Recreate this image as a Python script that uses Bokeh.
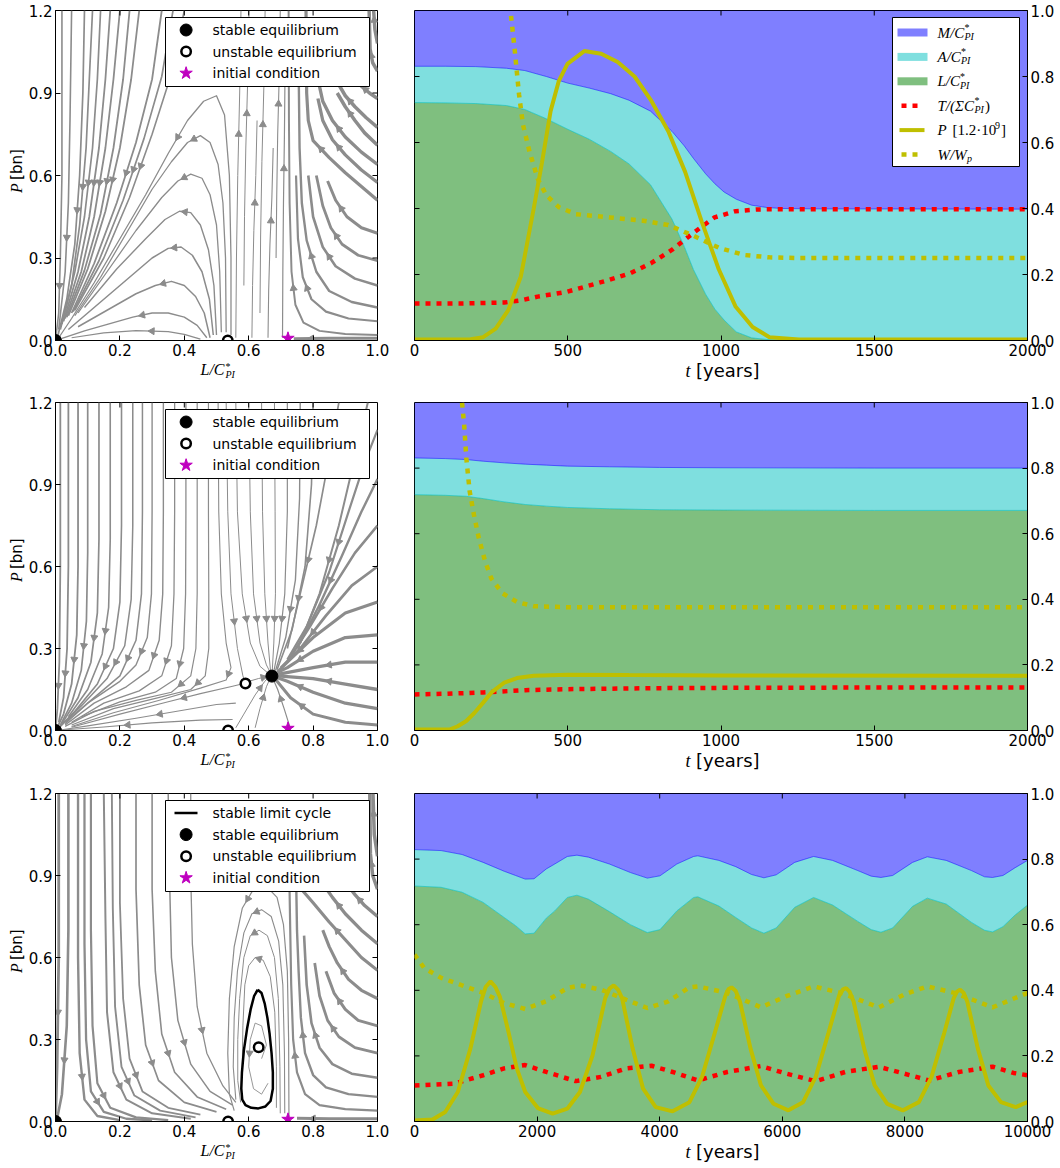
import math
import numpy as np
from bokeh.plotting import figure
from bokeh.models import (Range1d, FixedTicker, PrintfTickFormatter,
                          Label, BoxAnnotation, ColumnDataSource)
from bokeh.layouts import row, column
from bokeh.embed import file_html
from bokeh.resources import INLINE

# ===================== DATA =====================
phase_x_ticks = [0.0, 0.2, 0.4, 0.6, 0.8, 1.0]
phase_y_ticks = [0.0, 0.3, 0.6, 0.9, 1.2]
share_ticks = [0.0, 0.2, 0.4, 0.6, 0.8, 1.0]
t_ticks_short = [0, 500, 1000, 1500, 2000]
t_ticks_long = [0, 2000, 4000, 6000, 8000, 10000]

# ---- row 1 time series ----
t1_area = [0, 100, 200, 300, 360, 430, 500, 570, 640, 700, 770, 840, 880, 910, 950, 980, 1010, 1050, 1100, 1150, 1200, 1300, 2000]
L1 = [.721, .720, .718, .712, .700, .672, .640, .610, .573, .535, .472, .368, .285, .215, .140, .095, .062, .026, .008, .003, .001, .000, .000]
A1 = [.110, .111, .112, .113, .118, .128, .140, .155, .175, .193, .223, .266, .305, .337, .365, .380, .388, .402, .402, .400, .399, .399, .398]
M1 = [.169, .169, .170, .175, .182, .200, .220, .235, .252, .272, .305, .366, .410, .448, .495, .525, .550, .572, .590, .597, .600, .601, .602]
t1_T = [0, 150, 293, 350, 402, 450, 499, 568, 636, 705, 773, 842, 911, 979, 1048, 1117, 1200, 2000]
T1 = [0.112, 0.112, 0.115, 0.122, 0.133, 0.14, 0.148, 0.166, 0.184, 0.204, 0.235, 0.276, 0.327, 0.373, 0.392, 0.397, 0.398, 0.398]
t1_P = [0, 100, 183, 224, 265, 306, 347, 389, 416, 444, 471, 499, 554, 609, 663, 718, 773, 828, 883, 938, 993, 1048, 1103, 1158, 1254, 1400, 2000]
P1 = [0.003, 0.003, 0.004, 0.01, 0.036, 0.092, 0.194, 0.40, 0.54, 0.695, 0.787, 0.838, 0.877, 0.869, 0.844, 0.80, 0.726, 0.634, 0.511, 0.358, 0.215, 0.102, 0.041, 0.01, 0.003, 0.003, 0.003]
t1_W = [300, 313, 327, 341, 354, 375, 402, 430, 471, 526, 636, 746, 828, 911, 993, 1076, 1158, 1250, 2000]
W1 = [1.25, 1.0, 0.88, 0.746, 0.654, 0.573, 0.49, 0.44, 0.404, 0.383, 0.373, 0.363, 0.35, 0.317, 0.281, 0.259, 0.252, 0.25, 0.25]

# ---- row 2 time series ----
t2_area = [0, 100, 169, 224, 293, 361, 430, 499, 636, 800, 1000, 1500, 2000]
L2 = [.719, .717, .714, .707, .697, .689, .684, .680, .676, .673, .672, .671, .671]
A2 = [.112, .112, .112, .114, .119, .123, .125, .126, .128, .129, .129, .129, .129]
M2 = [.169, .171, .174, .179, .184, .188, .191, .194, .196, .198, .199, .200, .200]
t2_T = [0, 100, 224, 361, 499, 773, 1000, 1500, 2000]
T2 = [0.11, 0.112, 0.116, 0.123, 0.126, 0.129, 0.13, 0.131, 0.131]
t2_P = [0, 114, 141, 169, 196, 224, 251, 293, 334, 389, 499, 700, 1000, 2000]
P2 = [0.003, 0.003, 0.013, 0.029, 0.054, 0.085, 0.116, 0.146, 0.16, 0.167, 0.17, 0.169, 0.168, 0.167]
t2_W = [150, 155, 162, 169, 180, 194, 210, 231, 251, 286, 334, 389, 499, 1000, 2000]
W2 = [1.1, 1.0, 0.933, 0.831, 0.729, 0.657, 0.586, 0.514, 0.463, 0.419, 0.392, 0.379, 0.376, 0.376, 0.376]

# ---- row 3 time series ----
t3_area = [0, 433, 776, 1120, 1463, 1650, 1806, 1950, 2150, 2287, 2493, 2650, 2836, 3180, 3523, 3798, 4004, 4279, 4553, 4622, 4966, 5240, 5500, 5700, 5900, 6202, 6511, 6820, 7232, 7450, 7609, 7800, 8125, 8365, 8674, 9086, 9300, 9430, 9600, 9800, 10000]
L3 = [.718, .714, .699, .668, .622, .597, .572, .574, .620, .642, .683, .690, .678, .640, .600, .576, .585, .642, .683, .685, .657, .622, .590, .574, .590, .653, .683, .660, .610, .585, .577, .590, .656, .681, .663, .607, .583, .578, .594, .630, .660]
A3 = [.111, .112, .115, .122, .141, .153, .167, .166, .150, .143, .125, .122, .128, .145, .159, .166, .164, .143, .125, .125, .139, .155, .163, .169, .162, .137, .125, .136, .155, .163, .167, .160, .134, .126, .133, .158, .163, .166, .156, .144, .136]
M3 = [.171, .174, .186, .210, .237, .250, .261, .260, .230, .215, .192, .188, .194, .215, .241, .258, .251, .215, .192, .190, .204, .223, .247, .257, .248, .210, .192, .204, .235, .252, .256, .250, .210, .193, .204, .235, .254, .256, .250, .226, .204]
t3_T = [0, 639, 1120, 1463, 1806, 2150, 2630, 3043, 3455, 3867, 4210, 4622, 5103, 5652, 6065, 6545, 7026, 7575, 7987, 8400, 8880, 9430, 9773, 10000]
T3 = [0.11, 0.115, 0.141, 0.162, 0.172, 0.151, 0.123, 0.136, 0.162, 0.17, 0.151, 0.125, 0.151, 0.169, 0.146, 0.123, 0.151, 0.167, 0.146, 0.125, 0.151, 0.167, 0.148, 0.141]
t3_P = [0, 295, 501, 707, 913, 1085, 1160, 1240, 1320, 1394, 1532, 1669, 1806, 2012, 2253, 2493, 2699, 2905, 3111, 3180, 3249, 3320, 3386, 3558, 3729, 3935, 4210, 4485, 4691, 4897, 5069, 5120, 5172, 5240, 5309, 5481, 5652, 5858, 6099, 6339, 6545, 6751, 6923, 6985, 7040, 7100, 7163, 7335, 7507, 7713, 7967, 8228, 8434, 8640, 8798, 8850, 8901, 8960, 9017, 9189, 9361, 9567, 9808, 10000]
P3 = [0.003, 0.006, 0.029, 0.09, 0.223, 0.366, 0.41, 0.427, 0.41, 0.38, 0.274, 0.162, 0.09, 0.041, 0.024, 0.039, 0.09, 0.202, 0.376, 0.405, 0.415, 0.402, 0.376, 0.223, 0.1, 0.044, 0.031, 0.059, 0.136, 0.269, 0.382, 0.403, 0.409, 0.398, 0.366, 0.223, 0.11, 0.054, 0.034, 0.059, 0.136, 0.269, 0.382, 0.402, 0.407, 0.395, 0.366, 0.223, 0.11, 0.054, 0.034, 0.059, 0.136, 0.269, 0.377, 0.396, 0.402, 0.392, 0.366, 0.223, 0.11, 0.059, 0.044, 0.059]
t3_W = [0, 158, 433, 776, 1120, 1463, 1806, 2150, 2493, 2699, 3043, 3455, 3798, 4141, 4485, 4622, 5103, 5652, 6065, 6511, 6957, 7575, 7987, 8365, 8811, 9430, 10000]
W3 = [0.509, 0.468, 0.438, 0.415, 0.392, 0.361, 0.343, 0.367, 0.407, 0.415, 0.402, 0.371, 0.346, 0.366, 0.409, 0.412, 0.392, 0.348, 0.382, 0.412, 0.392, 0.348, 0.387, 0.412, 0.392, 0.348, 0.392]

# ---- equilibria / initial condition (L/C*, P) ----
eq1_stable_x, eq1_stable_y = [0.0], [0.0]
eq1_unstable_x, eq1_unstable_y = [0.535], [0.0]
eq2_stable_x, eq2_stable_y = [0.0, 0.672], [0.0, 0.199]
eq2_unstable_x, eq2_unstable_y = [0.536, 0.59], [0.0, 0.172]
eq3_stable_x, eq3_stable_y = [0.0], [0.0]
eq3_unstable_x, eq3_unstable_y = [0.536, 0.631], [0.0, 0.272]
init_x, init_y = [0.722], [0.008]

cycle3_x = [0.628, 0.64, 0.65, 0.658, 0.665, 0.671, 0.675, 0.675, 0.668, 0.652, 0.63, 0.608, 0.59, 0.58, 0.577, 0.579, 0.585, 0.595, 0.606, 0.617, 0.628]
cycle3_y = [0.482, 0.47, 0.43, 0.38, 0.32, 0.25, 0.18, 0.12, 0.075, 0.055, 0.048, 0.05, 0.06, 0.08, 0.12, 0.18, 0.26, 0.34, 0.41, 0.46, 0.482]

# ---- streamlines (traced by eye, listed in flow direction) ----
s1_x = [
    [0.02, 0.02, 0.015, 0.01, 0.0],
    [0.05, 0.045, 0.04, 0.03, 0.01],
    [0.09, 0.085, 0.075, 0.06, 0.035, 0.008],
    [0.115, 0.105, 0.095, 0.075, 0.05, 0.015],
    [0.14, 0.13, 0.115, 0.09, 0.06, 0.02],
    [0.17, 0.155, 0.135, 0.105, 0.07, 0.025],
    [0.2, 0.18, 0.155, 0.12, 0.08, 0.03],
    [0.23, 0.21, 0.18, 0.14, 0.09, 0.035],
    [0.26, 0.235, 0.2, 0.155, 0.1, 0.04],
    [0.33, 0.3, 0.25, 0.19, 0.12, 0.05],
    [0.365, 0.33, 0.275, 0.21, 0.135, 0.055],
    [0.4, 0.36, 0.3, 0.23, 0.15, 0.06],
    [0.545, 0.545, 0.54, 0.525, 0.5, 0.46, 0.41, 0.35, 0.28, 0.2, 0.12, 0.05, 0.01],
    [0.53, 0.528, 0.52, 0.505, 0.48, 0.45, 0.41, 0.36, 0.3, 0.22, 0.14, 0.06],
    [0.515, 0.51, 0.5, 0.48, 0.455, 0.42, 0.38, 0.33, 0.25, 0.16, 0.07],
    [0.5, 0.492, 0.475, 0.45, 0.42, 0.385, 0.34, 0.28, 0.19, 0.09],
    [0.49, 0.478, 0.455, 0.425, 0.39, 0.35, 0.3, 0.22, 0.12, 0.04],
    [0.48, 0.462, 0.435, 0.4, 0.36, 0.31, 0.25, 0.16, 0.07],
    [0.47, 0.44, 0.4, 0.35, 0.3, 0.24, 0.18, 0.09, 0.02],
    [0.45, 0.4, 0.35, 0.25, 0.15, 0.05],
    [0.56, 0.562, 0.566, 0.572, 0.576],
    [0.585, 0.587, 0.591, 0.597, 0.601],
    [0.61, 0.612, 0.616, 0.622, 0.626],
    [0.635, 0.637, 0.641, 0.647, 0.651],
    [0.66, 0.662, 0.666, 0.672, 0.676],
    [0.685, 0.687, 0.69, 0.695, 0.698],
    [0.705, 0.706, 0.708, 0.711, 0.713],
    [1.0, 0.85, 0.74],
    [1.0, 0.9, 0.82, 0.77, 0.745, 0.733, 0.727, 0.725, 0.724],
    [1.0, 0.91, 0.84, 0.795, 0.768, 0.753, 0.747],
    [1.0, 0.92, 0.85, 0.81, 0.78, 0.765, 0.758, 0.755],
    [1.0, 0.93, 0.87, 0.83, 0.8, 0.785],
    [1.0, 0.94, 0.89, 0.855, 0.83, 0.81],
    [1.0, 0.95, 0.905, 0.87, 0.845],
    [1.0, 0.95, 0.9, 0.85, 0.8, 0.785, 0.78, 0.778],
    [1.0, 0.95, 0.9, 0.86, 0.83, 0.815],
    [1.0, 0.95, 0.9, 0.86, 0.83, 0.815],
    [1.0, 0.96, 0.93, 0.9, 0.875],
    [1.0, 0.965, 0.93, 0.9, 0.88],
    [1.0, 0.975, 0.95, 0.93],
    [1.0, 0.985, 0.977, 0.974],
    [1.0, 0.992, 0.988],
]
s1_y = [
    [1.2, 0.6, 0.3, 0.1, 0.0],
    [1.2, 0.8, 0.5, 0.25, 0.04],
    [1.2, 0.9, 0.6, 0.35, 0.15, 0.02],
    [1.2, 0.95, 0.7, 0.42, 0.2, 0.04],
    [1.2, 0.95, 0.7, 0.45, 0.25, 0.06],
    [1.2, 0.95, 0.7, 0.45, 0.25, 0.07],
    [1.2, 0.95, 0.7, 0.45, 0.25, 0.08],
    [1.2, 0.95, 0.7, 0.46, 0.255, 0.085],
    [1.2, 0.95, 0.7, 0.47, 0.26, 0.09],
    [1.2, 0.95, 0.72, 0.5, 0.28, 0.1],
    [1.2, 0.96, 0.735, 0.51, 0.29, 0.105],
    [1.2, 0.97, 0.75, 0.52, 0.3, 0.11],
    [0.02, 0.3, 0.6, 0.82, 0.89, 0.87, 0.8, 0.68, 0.53, 0.37, 0.21, 0.08, 0.01],
    [0.03, 0.3, 0.5, 0.64, 0.72, 0.745, 0.72, 0.65, 0.55, 0.39, 0.23, 0.09],
    [0.03, 0.25, 0.42, 0.53, 0.59, 0.605, 0.58, 0.52, 0.4, 0.25, 0.1],
    [0.02, 0.2, 0.33, 0.42, 0.465, 0.47, 0.44, 0.37, 0.26, 0.12],
    [0.02, 0.15, 0.25, 0.31, 0.34, 0.335, 0.3, 0.22, 0.12, 0.04],
    [0.01, 0.1, 0.16, 0.2, 0.215, 0.2, 0.17, 0.11, 0.05],
    [0.01, 0.055, 0.085, 0.1, 0.1, 0.085, 0.065, 0.035, 0.008],
    [0.005, 0.022, 0.032, 0.036, 0.028, 0.01],
    [0.01, 0.3, 0.6, 0.9, 1.2],
    [0.2, 0.45, 0.7, 0.95, 1.2],
    [0.01, 0.2, 0.4, 0.6, 0.8],
    [0.1, 0.38, 0.65, 0.92, 1.2],
    [0.01, 0.18, 0.35, 0.52, 0.7],
    [0.3, 0.52, 0.75, 0.97, 1.2],
    [0.01, 0.25, 0.5, 0.75, 1.0],
    [0.008, 0.008, 0.006],
    [0.02, 0.024, 0.035, 0.065, 0.13, 0.25, 0.5, 0.8, 1.2],
    [0.07, 0.08, 0.105, 0.15, 0.23, 0.37, 0.6],
    [0.12, 0.14, 0.18, 0.25, 0.364, 0.5, 0.7, 1.0],
    [0.2, 0.225, 0.27, 0.34, 0.45, 0.6],
    [0.29, 0.31, 0.35, 0.41, 0.49, 0.6],
    [0.39, 0.41, 0.45, 0.51, 0.58],
    [0.51, 0.56, 0.61, 0.665, 0.727, 0.8, 0.9, 1.2],
    [0.575, 0.62, 0.675, 0.73, 0.8, 0.88],
    [0.64, 0.685, 0.74, 0.8, 0.87, 0.95],
    [0.71, 0.755, 0.8, 0.85, 0.9],
    [0.775, 0.81, 0.85, 0.89, 0.93],
    [0.88, 0.9, 0.925, 0.95],
    [0.98, 1.01, 1.06, 1.2],
    [1.08, 1.13, 1.2],
]
s1_w = [1.6, 1.6, 1.7, 1.7, 1.7, 1.8, 1.8, 1.8, 1.8, 1.8, 1.7, 1.6,
        1.3, 1.3, 1.3, 1.4, 1.5, 1.5, 1.4, 1.2,
        1.0, 1.0, 1.0, 1.0, 1.1, 1.1, 1.2,
        3.0, 2.0, 2.2, 2.4, 2.6, 2.8, 3.0, 3.2, 3.3, 3.4, 3.5, 3.5, 3.5, 3.5, 3.5]

s2_x = [
    [0.015, 0.015, 0.012, 0.006, 0.0],
    [0.04, 0.04, 0.036, 0.025, 0.01],
    [0.07, 0.07, 0.066, 0.05, 0.025, 0.005],
    [0.1, 0.1, 0.096, 0.08, 0.05, 0.015],
    [0.135, 0.135, 0.13, 0.11, 0.07, 0.02],
    [0.17, 0.17, 0.165, 0.145, 0.1, 0.04],
    [0.205, 0.205, 0.2, 0.18, 0.13, 0.06, 0.01],
    [0.24, 0.24, 0.235, 0.215, 0.16, 0.08, 0.015],
    [0.27, 0.27, 0.267, 0.25, 0.2, 0.11, 0.03],
    [0.3, 0.3, 0.298, 0.285, 0.25, 0.2, 0.1, 0.03],
    [0.335, 0.335, 0.333, 0.322, 0.29, 0.22, 0.12, 0.03],
    [0.37, 0.37, 0.368, 0.36, 0.33, 0.26, 0.15, 0.05],
    [0.405, 0.405, 0.404, 0.398, 0.375, 0.31, 0.2, 0.08],
    [0.44, 0.44, 0.44, 0.436, 0.42, 0.36, 0.25, 0.12, 0.03],
    [0.475, 0.475, 0.476, 0.476, 0.465, 0.42, 0.32, 0.18, 0.05],
    [0.505, 0.507, 0.515, 0.53, 0.545, 0.53, 0.45, 0.32, 0.18, 0.05],
    [0.53, 0.535, 0.545, 0.565, 0.582, 0.588],
    [0.56, 0.565, 0.58, 0.605, 0.635, 0.665],
    [0.6, 0.605, 0.615, 0.635, 0.655, 0.668],
    [0.64, 0.643, 0.65, 0.66, 0.668],
    [0.68, 0.682, 0.683, 0.678, 0.673],
    [0.72, 0.72, 0.712, 0.695, 0.678],
    [0.76, 0.758, 0.745, 0.715, 0.683],
    [0.8, 0.795, 0.775, 0.735, 0.688],
    [1.0, 0.9, 0.8, 0.73, 0.685],
    [1.0, 0.9, 0.8, 0.72, 0.685],
    [1.0, 0.9, 0.8, 0.69],
    [1.0, 0.9, 0.8, 0.69],
    [1.0, 0.9, 0.8, 0.72, 0.685],
    [1.0, 0.9, 0.8, 0.72, 0.69],
    [1.0, 0.92, 0.84, 0.76, 0.7],
    [1.0, 0.93, 0.86, 0.79, 0.72],
    [1.0, 0.95, 0.89, 0.82, 0.75],
    [1.0, 0.96, 0.91, 0.85, 0.78, 0.72],
    [0.97, 0.93, 0.88, 0.82, 0.76],
    [0.88, 0.85, 0.81, 0.76, 0.72],
    [0.585, 0.55, 0.45, 0.35, 0.2, 0.05],
    [0.56, 0.5, 0.4, 0.25, 0.1, 0.02],
    [0.55, 0.45, 0.3, 0.15, 0.02],
    [0.595, 0.63, 0.66],
    [0.56, 0.585, 0.62, 0.65, 0.665],
    [0.62, 0.635, 0.655, 0.668],
    [0.73, 0.71, 0.69, 0.675],
]
s2_y = [
    [1.2, 0.6, 0.25, 0.08, 0.0],
    [1.2, 0.6, 0.3, 0.12, 0.03],
    [1.2, 0.6, 0.35, 0.17, 0.06, 0.01],
    [1.2, 0.65, 0.4, 0.22, 0.1, 0.02],
    [1.2, 0.7, 0.43, 0.25, 0.12, 0.025],
    [1.2, 0.7, 0.45, 0.28, 0.15, 0.05],
    [1.2, 0.75, 0.47, 0.3, 0.17, 0.07, 0.01],
    [1.2, 0.75, 0.48, 0.31, 0.19, 0.09, 0.015],
    [1.2, 0.8, 0.5, 0.33, 0.2, 0.11, 0.03],
    [1.2, 0.8, 0.5, 0.34, 0.24, 0.18, 0.1, 0.025],
    [1.2, 0.8, 0.5, 0.33, 0.22, 0.16, 0.1, 0.02],
    [1.2, 0.8, 0.5, 0.31, 0.2, 0.145, 0.1, 0.03],
    [1.2, 0.8, 0.5, 0.3, 0.19, 0.14, 0.105, 0.05],
    [1.2, 0.8, 0.5, 0.3, 0.2, 0.14, 0.11, 0.07, 0.015],
    [1.2, 0.8, 0.5, 0.3, 0.2, 0.15, 0.12, 0.08, 0.02],
    [1.2, 0.8, 0.5, 0.32, 0.23, 0.185, 0.155, 0.11, 0.065, 0.015],
    [1.2, 0.8, 0.5, 0.3, 0.2, 0.178],
    [1.2, 0.8, 0.5, 0.32, 0.235, 0.205],
    [1.2, 0.8, 0.5, 0.32, 0.24, 0.21],
    [1.2, 0.8, 0.5, 0.32, 0.215],
    [1.2, 0.8, 0.5, 0.32, 0.215],
    [1.2, 0.8, 0.5, 0.32, 0.215],
    [1.2, 0.85, 0.55, 0.34, 0.218],
    [1.2, 0.9, 0.6, 0.37, 0.222],
    [0.02, 0.03, 0.06, 0.12, 0.185],
    [0.08, 0.1, 0.14, 0.18, 0.195],
    [0.15, 0.17, 0.19, 0.2],
    [0.25, 0.25, 0.23, 0.205],
    [0.35, 0.34, 0.29, 0.23, 0.21],
    [0.47, 0.43, 0.34, 0.25, 0.215],
    [0.6, 0.53, 0.42, 0.3, 0.23],
    [0.75, 0.65, 0.52, 0.38, 0.25],
    [0.92, 0.8, 0.64, 0.46, 0.3],
    [1.1, 0.98, 0.8, 0.58, 0.38, 0.26],
    [1.2, 1.0, 0.75, 0.5, 0.32],
    [1.2, 1.0, 0.75, 0.5, 0.3],
    [0.172, 0.162, 0.135, 0.105, 0.06, 0.012],
    [0.1, 0.095, 0.075, 0.045, 0.017, 0.003],
    [0.04, 0.038, 0.028, 0.013, 0.002],
    [0.178, 0.19, 0.198],
    [0.01, 0.06, 0.13, 0.18, 0.197],
    [0.01, 0.08, 0.16, 0.195],
    [0.005, 0.08, 0.15, 0.19],
]
s2_w = [1.8, 1.8, 1.8, 1.7, 1.7, 1.6, 1.6, 1.5, 1.5, 1.4, 1.4, 1.3, 1.3, 1.2, 1.2, 1.1,
        1.0, 1.0, 1.0, 1.0, 1.0, 1.2, 1.4, 1.6,
        3.0, 3.2, 3.3, 3.3, 3.2, 3.0, 2.8, 2.6, 2.4, 2.2, 2.0, 1.7,
        1.1, 1.1, 1.1, 1.0, 1.0, 1.0, 1.2]

s3_x = [
    [0.01, 0.01, 0.005, 0.0],
    [0.04, 0.04, 0.035, 0.02, 0.005],
    [0.07, 0.07, 0.075, 0.09, 0.13, 0.2],
    [0.09, 0.09, 0.095, 0.11, 0.15, 0.22, 0.3],
    [0.11, 0.11, 0.115, 0.13, 0.17, 0.25, 0.35],
    [0.15, 0.155, 0.16, 0.18, 0.22, 0.3, 0.42],
    [0.175, 0.178, 0.185, 0.205, 0.245, 0.325, 0.435],
    [0.2, 0.2, 0.21, 0.23, 0.27, 0.35, 0.45],
    [0.25, 0.25, 0.26, 0.28, 0.32, 0.4, 0.5],
    [0.3, 0.3, 0.31, 0.33, 0.37, 0.44, 0.53],
    [0.35, 0.355, 0.36, 0.38, 0.42, 0.48, 0.55],
    [0.42, 0.42, 0.425, 0.44, 0.47, 0.52, 0.56],
    [0.686, 0.686, 0.681, 0.667, 0.645, 0.62, 0.6, 0.588, 0.582, 0.58],
    [0.698, 0.697, 0.692, 0.68, 0.658, 0.632, 0.605, 0.585, 0.572, 0.566, 0.566, 0.575],
    [0.712, 0.711, 0.706, 0.693, 0.67, 0.64, 0.61, 0.585, 0.565, 0.555, 0.552, 0.56],
    [0.725, 0.724, 0.72, 0.708, 0.688, 0.655, 0.615, 0.58, 0.555, 0.54, 0.535, 0.54, 0.555],
    [0.64, 0.655, 0.64, 0.62, 0.605, 0.6, 0.615, 0.64, 0.66],
    [1.0, 0.85, 0.75],
    [1.0, 0.9, 0.82, 0.775, 0.75, 0.738, 0.732, 0.729, 0.727],
    [1.0, 0.91, 0.84, 0.8, 0.775, 0.762, 0.755, 0.75, 0.748],
    [1.0, 0.92, 0.86, 0.82, 0.795, 0.78, 0.772],
    [1.0, 0.93, 0.88, 0.845, 0.82, 0.805],
    [1.0, 0.94, 0.9, 0.865, 0.84],
    [1.0, 0.95, 0.91, 0.875, 0.85, 0.83],
    [1.0, 0.95, 0.9, 0.85, 0.8, 0.767],
    [1.0, 0.95, 0.9, 0.86, 0.845],
    [1.0, 0.96, 0.93, 0.92],
    [1.0, 0.985, 0.978, 0.976],
    [1.0, 0.99, 0.986],
]
s3_y = [
    [1.2, 0.6, 0.2, 0.0],
    [1.2, 0.7, 0.35, 0.1, 0.01],
    [1.2, 0.6, 0.25, 0.08, 0.02, 0.005],
    [1.2, 0.65, 0.3, 0.11, 0.035, 0.01, 0.004],
    [1.2, 0.7, 0.35, 0.14, 0.05, 0.015, 0.005],
    [1.2, 0.75, 0.4, 0.18, 0.08, 0.03, 0.01],
    [1.2, 0.78, 0.42, 0.2, 0.095, 0.04, 0.015],
    [1.2, 0.8, 0.45, 0.23, 0.11, 0.05, 0.025],
    [1.2, 0.85, 0.5, 0.28, 0.15, 0.07, 0.035],
    [1.2, 0.85, 0.55, 0.32, 0.18, 0.09, 0.045],
    [1.2, 0.85, 0.6, 0.37, 0.21, 0.11, 0.06],
    [1.2, 0.9, 0.65, 0.42, 0.25, 0.13, 0.07],
    [0.05, 0.2, 0.4, 0.53, 0.59, 0.6, 0.57, 0.5, 0.35, 0.2],
    [0.03, 0.2, 0.45, 0.6, 0.68, 0.7, 0.68, 0.6, 0.45, 0.3, 0.15, 0.07],
    [0.03, 0.25, 0.5, 0.66, 0.75, 0.775, 0.76, 0.69, 0.55, 0.38, 0.2, 0.08],
    [0.02, 0.3, 0.55, 0.72, 0.82, 0.86, 0.85, 0.78, 0.64, 0.45, 0.25, 0.1, 0.04],
    [0.23, 0.28, 0.35, 0.36, 0.3, 0.2, 0.12, 0.1, 0.14],
    [0.01, 0.01, 0.012],
    [0.04, 0.045, 0.06, 0.1, 0.18, 0.3, 0.5, 0.7, 0.84],
    [0.09, 0.1, 0.125, 0.17, 0.25, 0.38, 0.55, 0.7, 0.84],
    [0.16, 0.175, 0.21, 0.27, 0.36, 0.5, 0.68],
    [0.25, 0.27, 0.31, 0.37, 0.46, 0.58],
    [0.35, 0.37, 0.41, 0.47, 0.55],
    [0.45, 0.48, 0.52, 0.58, 0.64, 0.7],
    [0.553, 0.6, 0.665, 0.73, 0.8, 0.845],
    [0.65, 0.7, 0.76, 0.82, 0.845],
    [0.75, 0.79, 0.83, 0.845],
    [0.85, 0.9, 0.98, 1.2],
    [0.97, 1.05, 1.2],
]
s3_w = [2.8, 2.6, 2.4, 2.3, 2.2, 2.0, 1.9, 1.8, 1.7, 1.6, 1.5, 1.3,
        1.0, 1.0, 1.1, 1.2, 0.9,
        3.0, 2.2, 2.4, 2.6, 2.8, 3.0, 3.1, 3.2, 3.3, 3.4, 3.5, 3.5]

# ===================== STYLE / LAYOUT =====================
SERIF = "Liberation Serif"
SANS = "DejaVu Sans"
GRAY = "#8c8c8c"
YEL = "#bfbf00"
MAG = "#bf00bf"
PHASE_W = 322
SERIES_W = 613
YLAB_W = 25
AXIS_L = 31          # width that bokeh gives the phase plots' y-axis
ROWS = [dict(h=330, top=10, bottom=20, strip=36),
        dict(h=328, top=6, bottom=20, strip=37),
        dict(h=328, top=6, bottom=20, strip=25)]


def style_axis(ax, ticks, fmt=None):
    ax.ticker = FixedTicker(ticks=ticks)
    if fmt:
        ax.formatter = PrintfTickFormatter(format=fmt)
    ax.major_tick_in = 5
    ax.major_tick_out = 0
    ax.minor_tick_line_color = None
    ax.major_tick_line_color = "black"
    ax.axis_line_color = "black"
    ax.major_label_text_font = SANS
    ax.major_label_text_color = "black"
    ax.major_label_text_font_size = "15px"
    ax.major_label_standoff = 3


def base_fig(fw, fh, top, bottom, left, right, xr, yr, yloc):
    p = figure(frame_width=fw, frame_height=fh, min_border_left=left, min_border_right=right,
               min_border_top=top, min_border_bottom=bottom, x_range=Range1d(*xr),
               y_range=Range1d(*yr), y_axis_location=yloc, output_backend="svg",
               toolbar_location=None, tools="")
    p.grid.visible = False
    p.outline_line_color = "black"
    p.outline_line_alpha = 1.0
    p.background_fill_color = "white"
    p.border_fill_color = "white"
    return p


def strip(w, h):
    s = figure(width=w, height=h, min_border=0, min_border_left=0, min_border_right=0,
               min_border_top=0, min_border_bottom=0, x_range=Range1d(0, w),
               y_range=Range1d(0, h), x_axis_location=None, y_axis_location=None,
               output_backend="svg", toolbar_location=None, tools="")
    s.grid.visible = False
    s.outline_line_color = None
    s.background_fill_color = "white"
    s.border_fill_color = "white"
    return s


def edge_ticks(p, top_xs, top_y, side_x, side_ys):
    # inward tick marks on the opposite frame edges (half of each dash is clipped away)
    p.scatter(top_xs, [top_y] * len(top_xs), marker="dash", size=10, angle=math.pi / 2,
              line_color="black", line_width=1)
    p.scatter([side_x] * len(side_ys), side_ys, marker="dash", size=10,
              line_color="black", line_width=1)


def txt(p, x, y, s, dx=0, dy=0, size=15, font=SANS, style="normal", align="left",
        angle=0.0, level="annotation"):
    p.add_layout(Label(x=x, y=y, x_offset=dx, y_offset=dy, text=s, text_font=font,
                       text_font_size=f"{size}px", text_font_style=style, text_align=align,
                       text_baseline="middle", angle=angle, text_color="black", level=level))


def make_phase(spec, sx, sy, sw, stable, unstable, cycle=None):
    fh = spec["h"]
    p = base_fig(PHASE_W, fh, spec["top"], spec["bottom"], 27, 14, (0, 1), (0, 1.2), "left")
    style_axis(p.xaxis[0], phase_x_ticks, "%.1f")
    style_axis(p.yaxis[0], phase_y_ticks, "%.1f")

    src = ColumnDataSource(dict(xs=sx, ys=sy, w=sw))
    p.multi_line(xs="xs", ys="ys", line_width="w", line_color=GRAY, line_join="round",
                 source=src)
    ax_, ay_, aa_ = [], [], []
    for xl, yl in zip(sx, sy):
        m = (len(xl) - 1) // 2
        x0, y0, x1, y1 = xl[m], yl[m], xl[m + 1], yl[m + 1]
        ax_.append((x0 + x1) / 2)
        ay_.append((y0 + y1) / 2)
        aa_.append(math.atan2((y1 - y0) * fh / 1.2, (x1 - x0) * PHASE_W) - math.pi / 2)
    p.scatter(ax_, ay_, marker="triangle", size=7, angle=aa_, color=GRAY)
    edge_ticks(p, phase_x_ticks[1:-1], 1.2, 1.0, phase_y_ticks[1:-1])

    if cycle is not None:
        p.line(cycle[0], cycle[1], line_color="black", line_width=2.5)
    p.scatter(stable[0], stable[1], marker="circle", size=12, color="black")
    p.scatter(unstable[0], unstable[1], marker="circle", size=9.5, fill_color="white",
              line_color="black", line_width=2.5)
    p.scatter(init_x, init_y, marker="star", size=13, color=MAG)

    # legend
    X = lambda px: px / PHASE_W
    Y = lambda py: 1.2 - 1.2 * py / fh
    entries = (["cycle"] if cycle is not None else []) + ["stable", "unstable", "initial"]
    names = {"cycle": "stable limit cycle", "stable": "stable equilibrium",
             "unstable": "unstable equilibrium", "initial": "initial condition"}
    bl, br, bt = 110, 314, 7
    bh = 69 if len(entries) == 3 else 91
    p.add_layout(BoxAnnotation(left=X(bl), right=X(br), top=Y(bt), bottom=Y(bt + bh),
                               fill_color="white", fill_alpha=1.0, line_color="black",
                               line_width=1, line_alpha=1.0))
    for i, k in enumerate(entries):
        cy = bt + 12.5 + 21.6 * i
        if k == "cycle":
            p.line([X(bl + 9), X(bl + 32)], [Y(cy), Y(cy)], line_color="black",
                   line_width=2.5, level="overlay")
        elif k == "stable":
            p.scatter([X(bl + 20.6)], [Y(cy)], marker="circle", size=12, color="black",
                      level="overlay")
        elif k == "unstable":
            p.scatter([X(bl + 20.6)], [Y(cy)], marker="circle", size=9.5, fill_color="white",
                      line_color="black", line_width=2.5, level="overlay")
        else:
            p.scatter([X(bl + 20.6)], [Y(cy)], marker="star", size=13, color=MAG,
                      level="overlay")
        txt(p, X(bl + 47), Y(cy), names[k], size=14, level="overlay")
    return p


def make_series(spec, t_end, t_ticks, ta, L, A, M, tT, T, tP, P, tW, W, legend=False):
    fh = spec["h"]
    p = base_fig(SERIES_W, fh, spec["top"], spec["bottom"], 23, 30, (0, t_end), (0, 1), "right")
    style_axis(p.xaxis[0], t_ticks)
    style_axis(p.yaxis[0], share_ticks, "%.1f")

    L = np.array(L); A = np.array(A); M = np.array(M)
    p.varea(x=ta, y1=0, y2=L, fill_color="#008000", fill_alpha=0.5)
    p.varea(x=ta, y1=L, y2=L + A, fill_color="#00bfbf", fill_alpha=0.5)
    p.varea(x=ta, y1=L + A, y2=L + A + M, fill_color="#0000ff", fill_alpha=0.5)
    p.line(ta, L, line_color="#00bfbf", line_alpha=0.6, line_width=1)
    p.line(ta, L + A, line_color="#0000ff", line_alpha=0.5, line_width=1)
    p.line(tT, T, line_color="red", line_width=4.5, line_dash="5 6")
    p.line(tP, P, line_color=YEL, line_width=4)
    p.line(tW, W, line_color=YEL, line_width=4.5, line_dash="5 6")
    edge_ticks(p, t_ticks[1:-1], 1.0, 0.0, share_ticks[1:-1])

    if legend:
        X = lambda px: t_end * px / SERIES_W
        Y = lambda py: 1 - py / fh
        bl, bw, bt, bh = 478, 127, 7, 149
        p.add_layout(BoxAnnotation(left=X(bl), right=X(bl + bw), top=Y(bt), bottom=Y(bt + bh),
                                   fill_color="white", fill_alpha=1.0, line_color="black",
                                   line_width=1, line_alpha=1.0))
        rows_ = [bt + 15 + 24.4 * i for i in range(6)]
        for i, col in enumerate(["#0000ff", "#00bfbf", "#008000"]):
            cy = rows_[i]
            p.line([X(bl + 5), X(bl + 35)], [Y(cy), Y(cy)], line_color=col, line_alpha=0.5,
                   line_width=8, level="overlay")
        p.line([X(bl + 9), X(bl + 25)], [Y(rows_[3])] * 2, line_color="red", line_width=4.5,
               line_dash="5 6", level="overlay")
        p.line([X(bl + 7), X(bl + 32)], [Y(rows_[4])] * 2, line_color=YEL, line_width=4,
               level="overlay")
        p.line([X(bl + 9), X(bl + 25)], [Y(rows_[5])] * 2, line_color=YEL, line_width=4.5,
               line_dash="5 6", level="overlay")
        tx = bl + 45
        it = dict(font=SERIF, level="overlay")
        for i, (s, w) in enumerate([("M/C", 27), ("A/C", 23.5), ("L/C", 22.5)]):
            cy = rows_[i]
            txt(p, X(tx), Y(cy), s, size=15, style="italic", **it)
            txt(p, X(tx + w), Y(cy), "*", dy=5, size=10, **it)
            txt(p, X(tx + w), Y(cy), "PI", dy=-4, size=10, style="italic", **it)
        cy = rows_[3]
        txt(p, X(tx), Y(cy), "T/(ΣC", size=15, style="italic", **it)
        txt(p, X(tx + 37), Y(cy), "*", dy=5, size=10, **it)
        txt(p, X(tx + 37), Y(cy), "PI", dy=-4, size=10, style="italic", **it)
        txt(p, X(tx + 47.5), Y(cy), ")", size=15, **it)
        cy = rows_[4]
        txt(p, X(tx), Y(cy), "P", size=15, style="italic", **it)
        txt(p, X(tx + 15), Y(cy), "[1.2·10", size=15, **it)
        txt(p, X(tx + 57.5), Y(cy), "9", dy=5, size=10, **it)
        txt(p, X(tx + 63.5), Y(cy), "]", size=15, **it)
        cy = rows_[5]
        txt(p, X(tx), Y(cy), "W/W", size=15, style="italic", **it)
        txt(p, X(tx + 29.5), Y(cy), "p", dy=-4, size=10, style="italic", **it)
    return p


def ylabel_strip(spec):
    h = spec["top"] + spec["h"] + spec["bottom"]
    s = strip(YLAB_W, h)
    c = h - (spec["top"] + spec["h"] / 2)          # vertical centre of the label
    txt(s, 16, c, "P", dy=-22, size=16, font=SERIF, style="italic", angle=math.pi / 2)
    txt(s, 16, c, "[bn]", dy=-9, size=15, font=SANS, angle=math.pi / 2)
    return s


def xlabel_strips(spec):
    hs = spec["strip"]
    lw = YLAB_W + AXIS_L + PHASE_W + 14
    rw = 23 + SERIES_W + 31
    sl = strip(lw, hs)
    cx = YLAB_W + AXIS_L + PHASE_W / 2
    cy = hs - 9
    txt(sl, cx, cy, "L/C", dx=7, size=16, font=SERIF, style="italic", align="right")
    txt(sl, cx, cy, "*", dx=8, dy=3.5, size=10, font=SERIF)
    txt(sl, cx, cy, "PI", dx=8, dy=-4.5, size=10, font=SERIF, style="italic")
    sr = strip(rw, hs)
    cx = 23 + SERIES_W / 2
    cy = hs - 10
    txt(sr, cx, cy, "t", dx=-36.5, size=18, font=SERIF, style="italic")
    txt(sr, cx, cy, "[years]", dx=-26, size=18, font=SANS)
    return sl, sr


ph1 = make_phase(ROWS[0], s1_x, s1_y, s1_w, (eq1_stable_x, eq1_stable_y), (eq1_unstable_x, eq1_unstable_y))
ph2 = make_phase(ROWS[1], s2_x, s2_y, s2_w, (eq2_stable_x, eq2_stable_y), (eq2_unstable_x, eq2_unstable_y))
ph3 = make_phase(ROWS[2], s3_x, s3_y, s3_w, (eq3_stable_x, eq3_stable_y), (eq3_unstable_x, eq3_unstable_y),
                 cycle=(cycle3_x, cycle3_y))

ts1 = make_series(ROWS[0], 2000, t_ticks_short, t1_area, L1, A1, M1, t1_T, T1, t1_P, P1, t1_W, W1, legend=True)
ts2 = make_series(ROWS[1], 2000, t_ticks_short, t2_area, L2, A2, M2, t2_T, T2, t2_P, P2, t2_W, W2)
ts3 = make_series(ROWS[2], 10000, t_ticks_long, t3_area, L3, A3, M3, t3_T, T3, t3_P, P3, t3_W, W3)

parts = []
for spec, ph, ts in zip(ROWS, [ph1, ph2, ph3], [ts1, ts2, ts3]):
    parts.append(row(ylabel_strip(spec), ph, ts))
    sl, sr = xlabel_strips(spec)
    parts.append(row(sl, sr))

layout = column(*parts)
open("out.html", "w").write(file_html(layout, INLINE))
